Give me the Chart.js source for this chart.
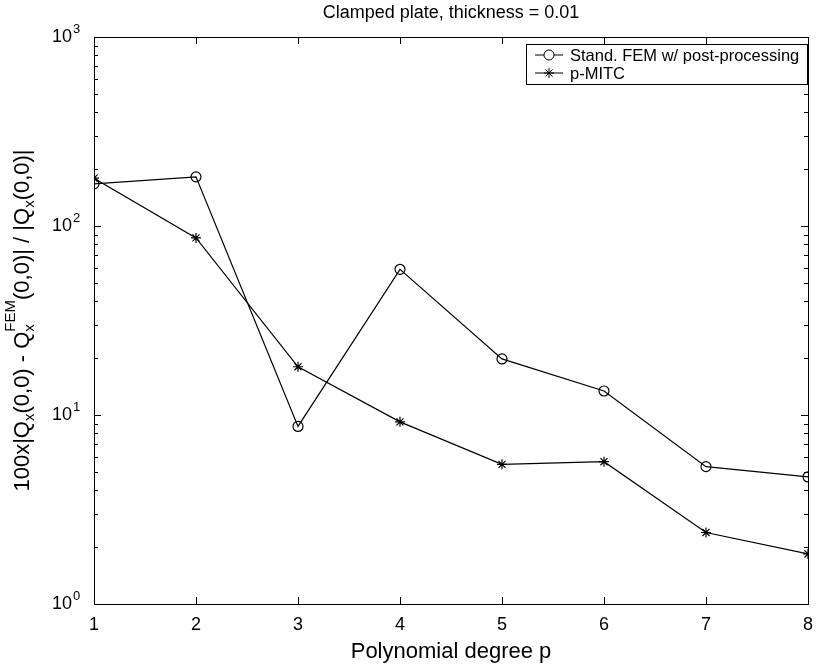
<!DOCTYPE html>
<html>
<head>
<meta charset="utf-8">
<script src="https://cdn.jsdelivr.net/npm/chart.js@4"></script>
<style>
  html, body { margin: 0; padding: 0; background: #fff; }
  #wrap { width: 823px; height: 669px; }
</style>
</head>
<body>
<div id="wrap"><canvas id="plate"></canvas></div>
<script>
// --- data ---
const degrees = [1, 2, 3, 4, 5, 6, 7, 8];
const femPost = [167, 182, 8.7, 59, 19.8, 13.4, 5.33, 4.7];
const pMitc = [179, 86.5, 18, 9.2, 5.48, 5.66, 2.39, 1.84];
const decadeTicks = [1, 10, 100, 1000];
const seriesNames = ['Stand. FEM w/ post-processing', 'p-MITC'];
const chartTitle = 'Clamped plate, thickness = 0.01';

const FONT = "'Liberation Sans', Arial, sans-serif";

// ticks drawn inward, MATLAB style, plus the box, legend and titles
const boxTicks = {
    id: 'boxTicks',
    afterDraw(chart) {
        const ctx = chart.ctx, a = chart.chartArea;
        const xs = chart.scales.x, ys = chart.scales.y;
        ctx.save();
        ctx.strokeStyle = '#000';
        ctx.lineWidth = 1;
        ctx.strokeRect(a.left + 0.5, a.top + 0.5, a.right - a.left, a.bottom - a.top);
        ctx.beginPath();
        degrees.forEach(d => {
            const px = Math.round(xs.getPixelForValue(d)) + 0.5;
            ctx.moveTo(px, a.bottom); ctx.lineTo(px, a.bottom - 7);
            ctx.moveTo(px, a.top); ctx.lineTo(px, a.top + 7);
        });
        for (let e = 0; e < 3; e++) {
            for (let m = 1; m <= 9; m++) {
                const v = m * Math.pow(10, e);
                const py = Math.round(ys.getPixelForValue(v)) + 0.5;
                const len = m === 1 ? 7 : 4;
                ctx.moveTo(a.left, py); ctx.lineTo(a.left + len, py);
                ctx.moveTo(a.right, py); ctx.lineTo(a.right - len, py);
            }
        }
        ctx.stroke();

        // exponents of the decade labels
        ctx.fillStyle = '#000';
        ctx.font = '13px ' + FONT;
        ctx.textBaseline = 'alphabetic';
        decadeTicks.forEach(v => {
            ctx.fillText(String(Math.round(Math.log10(v))), 73, ys.getPixelForValue(v) - 4);
        });

        // title, centred over the axes
        ctx.font = '18px ' + FONT;
        ctx.textAlign = 'center';
        ctx.textBaseline = 'middle';
        ctx.fillText(chartTitle, (a.left + a.right) / 2, 13);
        ctx.textAlign = 'left';

        // legend box
        const lx = 526, ly = 44, lw = 281, lh = 40;
        ctx.fillStyle = '#fff';
        ctx.fillRect(lx, ly, lw, lh);
        ctx.strokeRect(lx + 0.5, ly + 0.5, lw, lh);
        const rows = [55, 73];
        ctx.font = '16.5px ' + FONT;
        rows.forEach((y, i) => {
            ctx.beginPath();
            ctx.moveTo(535, y); ctx.lineTo(563, y);
            ctx.stroke();
            const ds = chart.data.datasets[i];
            Chart.helpers.drawPoint(ctx, {pointStyle: ds.pointStyle, radius: 5, borderWidth: 1}, 549, y);
            ctx.fillStyle = '#000';
            ctx.fillText(seriesNames[i], 570, y + 1);
            ctx.fillStyle = '#fff';
        });

        // y axis title with sub/superscripts
        const parts = [
            ['100x|Q', 0], ['x', 1], ['(0,0) - Q', 0], ['x', 1, 'FEM'], ['(0,0)| / |Q', 0], ['x', 1], ['(0,0)|', 0]
        ];
        const big = '22px ' + FONT, small = '15px ' + FONT;
        let total = 0;
        parts.forEach(p => {
            ctx.font = p[1] ? small : big;
            let w = ctx.measureText(p[0]).width;
            if (p[2]) w = Math.max(w, ctx.measureText(p[2]).width);
            p.w = w; total += w;
        });
        ctx.translate(22, (a.top + a.bottom) / 2);
        ctx.rotate(-Math.PI / 2);
        ctx.fillStyle = '#000';
        ctx.textBaseline = 'alphabetic';
        let x = -total / 2;
        parts.forEach(p => {
            if (p[1]) {
                ctx.font = small;
                ctx.fillText(p[0], x, 12);
                if (p[2]) ctx.fillText(p[2], x, -7);
            } else {
                ctx.font = big;
                ctx.fillText(p[0], x, 7);
            }
            x += p.w;
        });
        ctx.restore();
    }
};

const bg = {
    id: 'bg',
    beforeDraw(chart) {
        const ctx = chart.ctx;
        ctx.save();
        ctx.fillStyle = '#fff';
        ctx.fillRect(0, 0, chart.width, chart.height);
        ctx.restore();
    }
};

new Chart(document.getElementById('plate'), {
    type: 'line',
    data: {
        datasets: [
            {
                label: seriesNames[0],
                data: degrees.map((d, i) => ({x: d, y: femPost[i]})),
                borderColor: '#000', borderWidth: 1.2,
                pointStyle: 'circle', pointRadius: 5, pointBorderWidth: 1.2,
                pointBackgroundColor: 'rgba(255,255,255,0)', pointBorderColor: '#000',
                tension: 0
            },
            {
                label: seriesNames[1],
                data: degrees.map((d, i) => ({x: d, y: pMitc[i]})),
                borderColor: '#000', borderWidth: 1.2,
                pointStyle: 'star', pointRadius: 5, pointBorderWidth: 1.2,
                pointBackgroundColor: '#000', pointBorderColor: '#000',
                tension: 0
            }
        ]
    },
    options: {
        responsive: true, maintainAspectRatio: false, animation: false,
        layout: { padding: { top: 37, right: 8, left: 0, bottom: 0 } },
        plugins: {
            legend: { display: false },
            tooltip: { enabled: false },
            title: { display: false }
        },
        scales: {
            x: {
                type: 'linear', min: 1, max: 8,
                grid: { display: false, drawTicks: false },
                border: { display: false },
                ticks: { stepSize: 1, padding: 10, color: '#000', font: { family: FONT, size: 18 } },
                title: {
                    display: true, text: 'Polynomial degree p', color: '#000',
                    font: { family: FONT, size: 22 }, padding: { top: 0, bottom: 4 }
                },
                afterFit(s) { s.height = 65; }
            },
            y: {
                type: 'logarithmic', min: 1, max: 1000,
                grid: { display: false, drawTicks: false },
                border: { display: false },
                afterBuildTicks(s) { s.ticks = decadeTicks.map(v => ({value: v})); },
                ticks: {
                    padding: 22, color: '#000', font: { family: FONT, size: 18 },
                    callback: () => '10'
                },
                afterFit(s) { s.width = 94; }
            }
        }
    },
    plugins: [bg, boxTicks]
});
</script>
</body>
</html>
